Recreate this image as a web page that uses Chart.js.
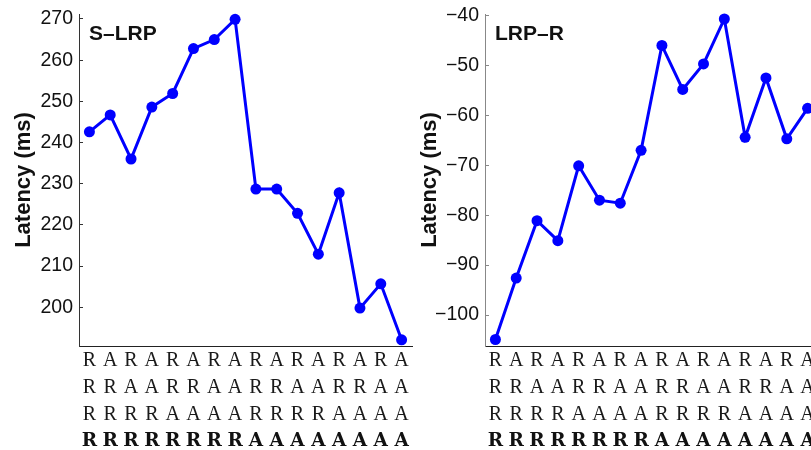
<!DOCTYPE html>
<html>
<head>
<meta charset="utf-8">
<script src="https://cdn.jsdelivr.net/npm/chart.js@4.4.1/dist/chart.umd.min.js"></script>
<style>
  html, body { margin: 0; padding: 0; background: #fff; overflow: hidden; width: 811px; height: 450px; }
  #wrap { position: relative; width: 811px; height: 450px; overflow: hidden; }
  #wrap canvas { position: absolute; top: 0; }
</style>
</head>
<body>
<div id="wrap">
  <canvas id="sLrp" width="420" height="450" style="left:0px"></canvas>
  <canvas id="lrpR" width="420" height="450" style="left:406px"></canvas>
</div>
<script>
// Condition sequences (one letter per sequence position; R = repetition, A = alternation)
const seqRow1 = ['R','A','R','A','R','A','R','A','R','A','R','A','R','A','R','A'];
const seqRow2 = ['R','R','A','A','R','R','A','A','R','R','A','A','R','R','A','A'];
const seqRow3 = ['R','R','R','R','A','A','A','A','R','R','R','R','A','A','A','A'];
const seqRow4 = ['R','R','R','R','R','R','R','R','A','A','A','A','A','A','A','A'];

// Latencies (ms) per sequence
const sLrpLatency = [242.6, 246.7, 236.0, 248.6, 251.9, 262.8, 265.0, 269.9,
                     228.7, 228.7, 222.8, 212.9, 227.8, 199.8, 205.7, 192.1];
const lrpRLatency = [-104.9, -92.6, -81.1, -85.1, -70.1, -77.0, -77.6, -67.0,
                     -46.0, -54.8, -49.7, -40.7, -64.4, -52.5, -64.7, -58.6];

// Y tick values
const sLrpTicks = [200, 210, 220, 230, 240, 250, 260, 270];
const lrpRTicks = [-100, -90, -80, -70, -60, -50, -40];

const seqLabels = seqRow1.map((c, i) => [c, seqRow2[i], seqRow3[i]]);

const SANS = '"Liberation Sans", Arial, Helvetica, sans-serif';
const SERIF = '"Liberation Serif", "Times New Roman", serif';
const SERIF_BOLD = '"DejaVu Serif", "Liberation Serif", serif';

// Panel name written inside the plot area, top-left
const panelName = {
  id: 'panelName',
  afterDraw(chart, args, opts) {
    const { ctx, chartArea } = chart;
    ctx.save();
    ctx.font = 'bold 21px ' + SANS;
    ctx.fillStyle = '#111';
    ctx.textBaseline = 'middle';
    ctx.textAlign = 'left';
    ctx.fillText(opts.text, chartArea.left + 10, chartArea.top + 20.5);
    ctx.restore();
  }
};

const fmtTick = v => (v < 0 ? '\u2212' + Math.abs(v) : String(v));

function makePanel(id, name, values, ticks, yMin, yMax, yAxisColor) {
  return new Chart(document.getElementById(id), {
    type: 'line',
    data: {
      labels: seqLabels,
      datasets: [{
        data: values,
        borderColor: '#0000ff',
        backgroundColor: '#0000ff',
        borderWidth: 3,
        pointRadius: 5.5,
        pointHoverRadius: 5.5,
        pointBackgroundColor: '#0000ff',
        pointBorderWidth: 0,
        tension: 0,
        clip: false
      }]
    },
    options: {
      responsive: false,
      animation: false,
      devicePixelRatio: 1,
      layout: { padding: { top: 14, right: 8, bottom: 0, left: 0 } },
      plugins: {
        legend: { display: false },
        tooltip: { enabled: false },
        panelName: { text: name }
      },
      scales: {
        x: {
          type: 'category',
          offset: true,
          weight: 0,
          afterFit: s => { s.height = 82; s.paddingLeft = 0; s.paddingRight = 0; },
          grid: { display: true, drawOnChartArea: false, drawTicks: false },
          border: { display: true, color: '#222', width: 1 },
          ticks: {
            font: { family: SERIF, size: 20, lineHeight: '27px' },
            color: '#1a1a1a',
            padding: 1.5,
            maxRotation: 0,
            autoSkip: false
          }
        },
        x2: {
          type: 'category',
          labels: seqRow4,
          min: 0,
          max: seqRow4.length - 1,
          offset: true,
          position: 'bottom',
          weight: 1,
          afterFit: s => { s.height = 22; s.paddingLeft = 0; s.paddingRight = 0; },
          grid: { display: true, drawOnChartArea: false, drawTicks: false },
          border: { display: false },
          ticks: {
            font: { family: SERIF_BOLD, size: 18.5, weight: 'bold', lineHeight: '27px' },
            color: '#111',
            padding: 0,
            maxRotation: 0,
            autoSkip: false
          }
        },
        y: {
          type: 'linear',
          min: yMin,
          max: yMax,
          afterBuildTicks: s => { s.ticks = ticks.map(v => ({ value: v })); },
          afterFit: s => { s.width = 79; s.paddingTop = 0; s.paddingBottom = 0; },
          border: { display: true, color: yAxisColor, width: 1 },
          grid: { display: true, drawOnChartArea: false, drawTicks: true, tickLength: -4, color: yAxisColor },
          ticks: {
            font: { family: SANS, size: 19.5 },
            color: '#111',
            padding: 10,
            callback: fmtTick
          },
          title: {
            display: true,
            text: 'Latency (ms)',
            font: { family: SANS, size: 22, weight: 'bold' },
            color: '#111',
            padding: { top: 10.5, bottom: 0 }
          }
        }
      }
    },
    plugins: [panelName]
  });
}

makePanel('sLrp', 'S\u2013LRP', sLrpLatency, sLrpTicks, 190.6, 271.2, '#333');
makePanel('lrpR', 'LRP\u2013R', lrpRLatency, lrpRTicks, -106.2, -39.7, '#888');
</script>
</body>
</html>
